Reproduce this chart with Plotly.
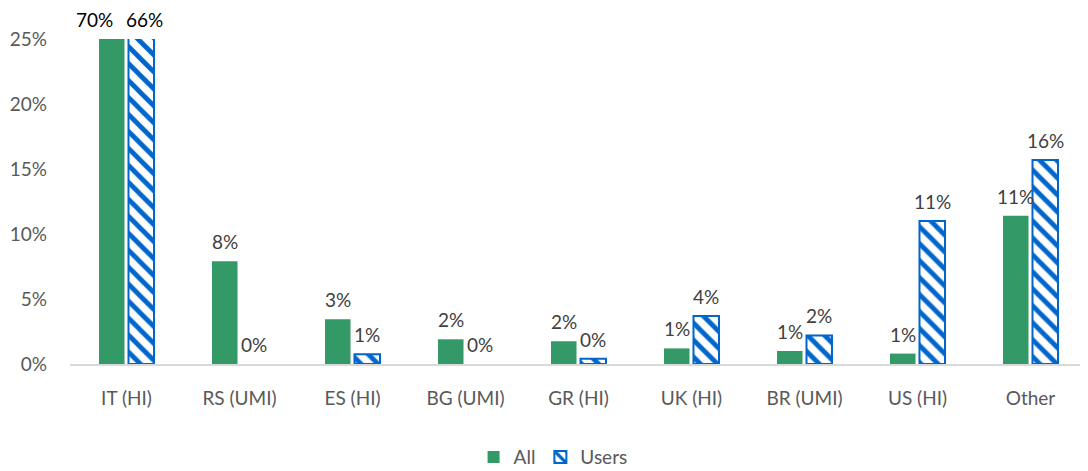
import plotly.graph_objects as go

categories = ['IT (HI)', 'RS (UMI)', 'ES (HI)', 'BG (UMI)', 'GR (HI)', 'UK (HI)', 'BR (UMI)', 'US (HI)', 'Other']
all_vals = [70.0, 7.9, 3.45, 1.9, 1.75, 1.2, 1.0, 0.8, 11.4]
users_vals = [66.0, 0.0, 0.75, 0.0, 0.4, 3.7, 2.2, 11.0, 15.7]

y_max = 25
green = '#339966'
blue = '#0066CC'
font_family = 'Lato, "Open Sans", sans-serif'

fig = go.Figure()

fig.add_trace(go.Bar(
    name='All', x=categories, y=all_vals,
    marker=dict(color=green, line=dict(width=0)),
))

fig.add_trace(go.Bar(
    name='Users', x=categories, y=users_vals,
    marker=dict(
        color='white',
        line=dict(color=blue, width=[2 if v > 0 else 0 for v in users_vals]),
        pattern=dict(shape='\\', fgcolor=blue, bgcolor='white', fgopacity=1,
                     size=12, solidity=0.4),
    ),
))

# data labels; bars above the axis max are clipped and their labels sit on top, pushed apart
for vals, shift, clip_shift in [(all_vals, -14.75, -17), (users_vals, 14.75, 3)]:
    for c, v in zip(categories, vals):
        clipped = v > y_max
        fig.add_annotation(
            x=c, y=min(v, y_max), xshift=shift + (clip_shift if clipped else 0), yshift=6,
            text=f'{v:.0f}%', showarrow=False, yanchor='bottom',
            font=dict(size=19, color='#000000' if clipped else '#404040', family=font_family),
        )

# page body has an 8px margin, so the figure is a bit smaller than the window
fig.update_layout(
    width=1080, height=463,
    margin=dict(l=62, r=1, t=31, b=107),
    paper_bgcolor='white', plot_bgcolor='white',
    barmode='group', bargap=0.478, bargroupgap=0.135,
    font=dict(family=font_family, size=19, color='#595959'),
    showlegend=True,
    legend=dict(orientation='h', x=0.475, xanchor='center', yref='container', y=0.03,
                yanchor='middle', font=dict(size=19, color='#595959'), itemwidth=30),
)

fig.update_yaxes(range=[0, y_max], dtick=5, ticksuffix='%', showgrid=False, automargin=False,
                 zeroline=False, showline=False, ticks='', ticklabelstandoff=22,
                 tickfont=dict(size=19, color='#595959'))
fig.update_xaxes(showline=True, linecolor='#D9D9D9', linewidth=2, ticks='', automargin=False,
                 ticklabelstandoff=16, tickfont=dict(size=19, color='#595959'))

fig.write_html('out.html')
